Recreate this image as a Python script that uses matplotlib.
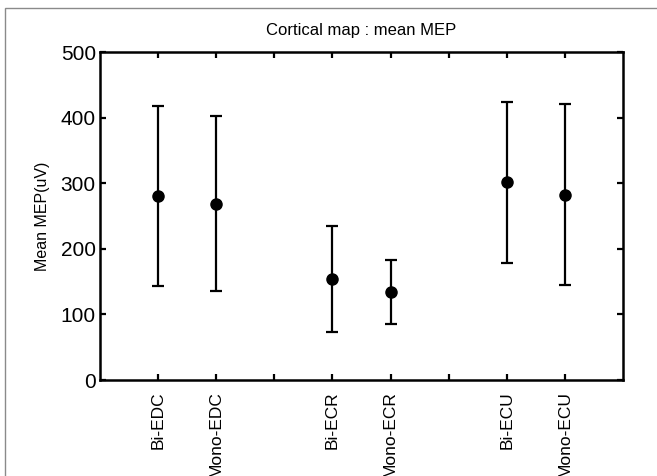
import numpy as np
import matplotlib
matplotlib.use('Agg')
from matplotlib import pyplot as plt
from matplotlib.patches import Rectangle

plt.rcParams['font.family'] = ['Liberation Sans', 'DejaVu Sans']

labels = ['Bi-EDC', 'Mono-EDC', 'Bi-ECR', 'Mono-ECR', 'Bi-ECU', 'Mono-ECU']
xpos = [1, 2, 4, 5, 7, 8]
mean_mep = [280, 268, 154, 134, 302, 282]
lower = [143, 135, 73, 85, 179, 145]
upper = [417, 403, 235, 183, 424, 420]

mean_mep = np.array(mean_mep)
yerr = [mean_mep - np.array(lower), np.array(upper) - mean_mep]

fig = plt.figure(figsize=(6.57, 4.76), dpi=100)
ax = fig.add_axes([100/657, 96/476, 523/657, 328/476])

ax.errorbar(xpos, mean_mep, yerr=yerr, fmt='o', color='black', ecolor='black',
            markersize=8, elinewidth=1.6, capsize=4.5, capthick=1.6)

ax.set_xlim(0, 9)
ax.set_ylim(0, 500)
ax.set_xticks(range(1, 9))
ticklab = ['' for i in range(8)]
for p, l in zip(xpos, labels):
    ticklab[p - 1] = l
ax.set_xticklabels(ticklab, rotation=90, fontsize=12.5)
ax.set_yticks(range(0, 501, 100))
ax.tick_params(axis='y', labelsize=15, pad=3)
ax.tick_params(axis='x', pad=8)
ax.tick_params(direction='in', length=4, width=1.6, top=True, right=True)
for s in ax.spines.values():
    s.set_linewidth(1.8)

ax.set_ylabel('Mean MEP(uV)', fontsize=11.5, labelpad=8)
ax.set_title('Cortical map : mean MEP', fontsize=12, pad=12)

# grey frame around the figure (cut off at right and bottom)
fig.add_artist(Rectangle((5/657, -0.1), 1.2, 1 - 8/476 + 0.1, transform=fig.transFigure,
                         fill=False, edgecolor='#8a8a8a', linewidth=1.0))

fig.savefig('out.png', dpi=100)
